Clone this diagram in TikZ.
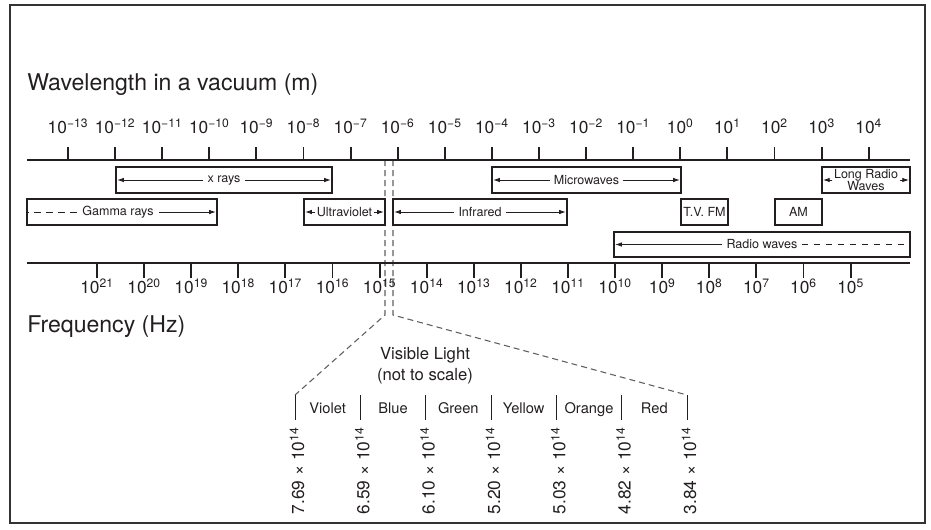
\documentclass[tikz,border=0pt]{standalone}
\usepackage{fontspec}
\setmainfont{TeX Gyre Heros}
\usetikzlibrary{arrows.meta, fit}
\definecolor{inkblack}{RGB}{35,31,32}
\definecolor{dashgray}{RGB}{95,95,95}
\newcommand\tenexp[1]{10\textsuperscript{\ifnum#1<0 −\number\numexpr-#1\relax\else#1\fi}}

\begin{document}
\begin{tikzpicture}[x=0.75pt, y=-0.75pt, inkblack,
  axis/.style={line width=1.5pt},
  tick/.style={line width=1.4pt},
  band/.style={draw, line width=2.2pt, inner sep=0pt},
  bandlbl/.style={font=\fontsize{9.4}{9}\selectfont, inner sep=3pt, align=center},
  tip/.style={-{Latex[length=5pt,width=3.4pt]}, line width=0.6pt},
  farend/.style={dash pattern=on 5pt off 4pt, line width=0.6pt},
  window/.style={dashgray, dash pattern=on 4.5pt off 3pt, line width=0.8pt},
  explbl/.style={font=\fontsize{13}{15}\selectfont, anchor=base, inner sep=0pt},
  title/.style={font=\fontsize{17.3}{20}\selectfont, anchor=base west, inner sep=0pt}]
  \useasboundingbox (0,0) rectangle (931,529);
  \draw[line width=1.5pt, gray!40!black] (10,5) rectangle (925,523);

  % visible light window
  \coordinate (win-a) at (385,160);
  \coordinate (win-b) at (393,160);
  \coordinate (win-c) at (385,315);
  \coordinate (win-d) at (393,315);
  \foreach \k in {0,...,6} {
    \coordinate (vb-\k) at ({295+65.33*\k},395);
    \coordinate (vb-\k-end) at ({295+65.33*\k},420);
  }
  \draw[window] (win-a) -- (win-c) -- (vb-0);
  \draw[window] (win-b) -- (win-d) -- (vb-6);

  % wavelength axis
  \node[title] (wl-title) at (27,90) {Wavelength in a vacuum (m)};
  \coordinate (wl-l) at (27,160);
  \coordinate (wl-r) at (910,160);
  \draw[axis] (wl-l) -- (wl-r);
  \foreach \e in {-13,...,4} {
    \draw[tick] ({68+47.1*(\e+13)},147) -- ({68+47.1*(\e+13)},160);
    \node[explbl] (wl\e) at ({68+47.1*(\e+13)},133) {\tenexp{\e}};
  }

  % frequency axis
  \coordinate (fq-l) at (27,263);
  \coordinate (fq-r) at (910,263);
  \draw[axis] (fq-l) -- (fq-r);
  \foreach \e in {21,...,5} {
    \draw[tick] ({97+47.1*(21-\e)},263) -- ({97+47.1*(21-\e)},278);
    \node[explbl] (fq\e) at ({97+47.1*(21-\e)},293) {\tenexp{\e}};
  }
  \node[title] (fq-title) at (27,332) {Frequency (Hz)};

  % bands, first row
  \node[band, fit={(116,167) (332,193)}] (xr) {};
  \node[bandlbl] (xr-t) at (xr) {x rays};
  \draw[tip, shorten >=2pt] (xr-t) -- (xr.west);
  \draw[tip, shorten >=2pt] (xr-t) -- (xr.east);

  \node[band, fit={(492,167) (681,193)}] (mw) {};
  \node[bandlbl] (mw-t) at (mw) {Microwaves};
  \draw[tip, shorten >=2pt] (mw-t) -- (mw.west);
  \draw[tip, shorten >=2pt] (mw-t) -- (mw.east);

  \node[band, line width=1.4pt, fit={(822,167) (910,193)}] (lr) {};
  \node[bandlbl, inner sep=1pt] (lr-t) at (lr) {Long Radio\\Waves};
  \draw[tip, shorten >=1.5pt] (lr-t) -- (lr.west);
  \draw[tip, shorten >=1.5pt] (lr-t) -- (lr.east);

  % second row
  \node[band, fit={(27,199) (217,225)}] (gm) {};
  \node[bandlbl, inner sep=4pt] (gm-t) at ([xshift=-3]gm.center) {Gamma rays};
  \draw[farend] (gm-t) -- (gm.west);
  \draw[tip, shorten >=2pt] (gm-t) -- (gm.east);

  \node[band, fit={(304,199) (385,225)}] (uv) {};
  \node[bandlbl, inner sep=1pt] (uv-t) at (uv) {Ultraviolet};
  \draw[tip, shorten >=2pt] (uv-t) -- (uv.west);
  \draw[tip, shorten >=2pt] (uv-t) -- (uv.east);

  \node[band, fit={(393,199) (567,225)}] (ir) {};
  \node[bandlbl] (ir-t) at (ir) {Infrared};
  \draw[tip, shorten >=2pt] (ir-t) -- (ir.west);
  \draw[tip, shorten >=2pt] (ir-t) -- (ir.east);

  \node[band, fit={(681,199) (728,225)}] (fm) {};
  \node[bandlbl, inner sep=0pt] (fm-t) at (fm) {T.V. FM};

  \node[band, fit={(775,199) (822,225)}] (am) {};
  \node[bandlbl] (am-t) at (am) {AM};

  % third row
  \node[band, fit={(614,232) (910,257)}] (rw) {};
  \node[bandlbl] (rw-t) at (rw) {Radio waves};
  \draw[tip, shorten >=2pt] (rw-t) -- (rw.west);
  \draw[farend, shorten >=2pt] (rw-t) -- (rw.east);

  % visible light detail
  \node[font=\fontsize{12.5}{16}\selectfont, align=center] (vis) at (425,366) {Visible Light\\(not to scale)};
  \foreach \k in {0,...,6}
    \draw[line width=0.7pt] (vb-\k) -- (vb-\k-end);
  \foreach \c [count=\k from 0] in {Violet,Blue,Green,Yellow,Orange,Red}
    \node[font=\fontsize{11}{13}\selectfont, anchor=base, inner sep=0pt] (col-\k) at ({295+65.33*(\k+0.5)},413) {\c};
  \foreach \f [count=\k from 0] in {7.69,6.59,6.10,5.20,5.03,4.82,3.84}
    \node[font=\fontsize{13}{14}\selectfont, rotate=90, anchor=east, inner sep=0pt] (hz-\k) at ({297+65.33*\k},427) {\f\ × \tenexp{14}};
\end{tikzpicture}
\end{document}
